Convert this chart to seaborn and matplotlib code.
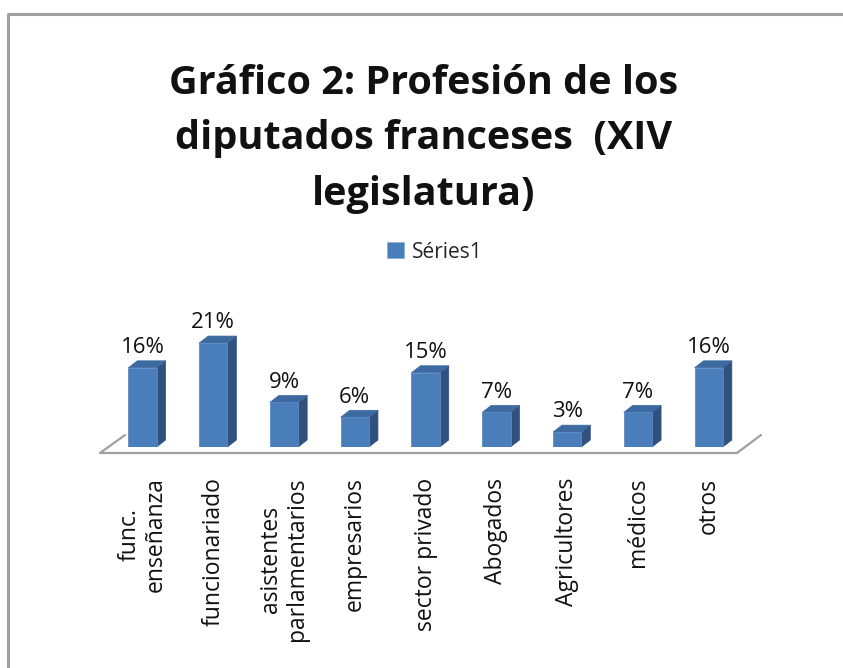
import pandas as pd
import matplotlib.pyplot as plt
import seaborn as sns
from matplotlib.patches import Polygon, Patch
from matplotlib.lines import Line2D
from matplotlib.transforms import IdentityTransform

# data
profesiones = ["func.\nenseñanza", "funcionariado", "asistentes\nparlamentarios",
               "empresarios", "sector privado", "Abogados", "Agricultores",
               "médicos", "otros"]
porcentajes = [16, 21, 9, 6, 15, 7, 3, 7, 16]
serie = "Séries1"
titulo = "Gráfico 2: Profesión de los\ndiputados franceses  (XIV\nlegislatura)"

front_col = "#4a7ebb"
top_col = "#3e6aa2"
side_col = "#30507e"
floor_col = "#a0a0a0"

sns.set_theme(style="white")
plt.rcParams["font.family"] = ["Open Sans", "DejaVu Sans"]

df = pd.DataFrame({"profesion": profesiones, "pct": porcentajes})

fig = plt.figure(figsize=(8.43, 6.68), dpi=100)
ax = fig.add_axes([100 / 843, 221 / 668, 637 / 843, 123.75 / 668])

sns.barplot(data=df, x="profesion", y="pct", color=front_col, saturation=1,
            width=0.4, ax=ax, edgecolor="#5b8ac4", linewidth=0.6, zorder=3)
ax.set_xlim(-0.6, 8.4)
ax.set_ylim(0, 25)
ax.set_xlabel("")
ax.set_ylabel("")
ax.set_yticks([])
sns.despine(ax=ax, left=True, bottom=True)

ax.tick_params(axis="x", length=0, pad=22, labelsize=16.5, labelcolor="#111111")
for lab in ax.get_xticklabels():
    lab.set_rotation(90)
    lab.set_rotation_mode("anchor")
    lab.set_ha("right")
    lab.set_va("center")
    lab.set_multialignment("center")
    lab.set_linespacing(1.1)

# 3D look: side and top faces offset in pixels
dx, dy = 9, 7
for p in ax.patches:
    x0, w, h = p.get_x(), p.get_width(), p.get_height()
    (lx, by), (rx, ty) = ax.transData.transform([(x0, 0), (x0 + w, h)])
    side = [(rx, by), (rx + dx, by + dy), (rx + dx, ty + dy), (rx, ty)]
    top = [(lx, ty), (rx, ty), (rx + dx, ty + dy), (lx + dx, ty + dy)]
    ax.add_patch(Polygon(side, closed=True, facecolor=side_col, edgecolor=side_col,
                         lw=0.5, transform=IdentityTransform(), clip_on=False, zorder=2))
    ax.add_patch(Polygon(top, closed=True, facecolor=top_col, edgecolor=top_col,
                         lw=0.5, transform=IdentityTransform(), clip_on=False, zorder=2))

ax.bar_label(ax.containers[0], labels=[f"{v}%" for v in porcentajes],
             padding=7, fontsize=16, color="#111111")

# floor
x_lo, x_hi = ax.get_xlim()
(fl, fy), (fr, _) = ax.transData.transform([(x_lo, 0), (x_hi, 0)])
fy -= 6
floor = Line2D([fl + 25, fl, fr, fr + 24], [fy + 18, fy, fy, fy + 18],
               transform=IdentityTransform(), color=floor_col, lw=1.6, zorder=1)
ax.add_artist(floor)
floor.set_clip_on(False)

# title and legend
fig.text(424 / 843, 1 - 139 / 668, titulo, ha="center", va="center",
         fontsize=28.5, fontweight="bold", color="#111111", linespacing=1.55)
fig.legend(handles=[Patch(facecolor=front_col, edgecolor="#8fb0d8", lw=0.6)],
           labels=[serie], loc="center", bbox_to_anchor=(435 / 843, 1 - 252 / 668),
           frameon=False, fontsize=15, handlelength=0.8, handleheight=0.8,
           handletextpad=0.4)

# chart frame (left and top edges visible)
fig.add_artist(Line2D([8 / 843, 8 / 843, 1], [0, 1 - 14 / 668, 1 - 14 / 668],
                      transform=fig.transFigure, color="#a0a0a0", lw=2.2))

fig.savefig("out.png", dpi=100)
